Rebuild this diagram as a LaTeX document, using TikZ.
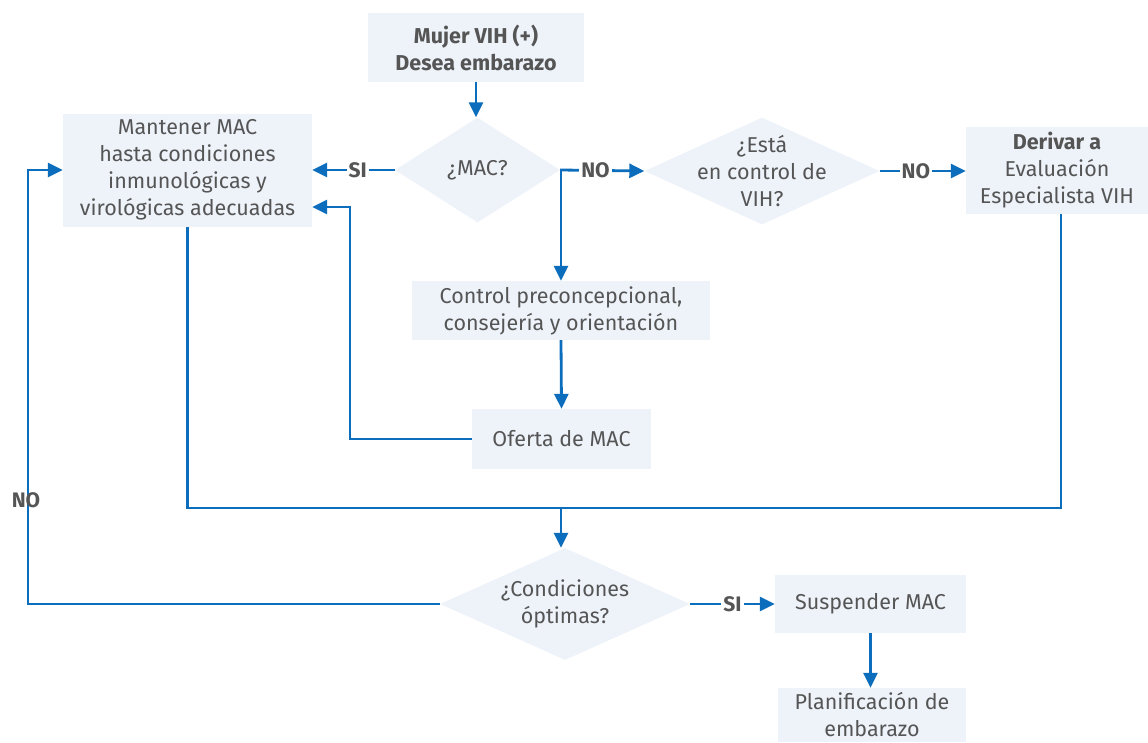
\documentclass[tikz,border=0pt]{standalone}
\usepackage{fontspec}
\setmainfont{Fira Sans}
\usetikzlibrary{shapes.geometric,arrows.meta}
\definecolor{boxfill}{HTML}{EEF3FA}
\definecolor{lineblue}{HTML}{0B6DBB}
\definecolor{txtgray}{HTML}{555555}
\tikzset{
  box/.style={rectangle, fill=boxfill, inner sep=0pt, align=center, text=txtgray,
    font=\fontsize{21.5}{27}\selectfont},
  dia/.style={diamond, fill=boxfill, inner sep=0pt, aspect=1},
  txt/.style={align=center, text=txtgray, font=\fontsize{21.5}{27}\selectfont},
  lab/.style={fill=white, inner sep=2pt, text=txtgray, font=\fontsize{21}{24}\selectfont\bfseries},
  conn/.style={draw=lineblue, line width=2.8pt},
  arr/.style={conn, -{Triangle[length=15pt,width=14pt]}},
}
\begin{document}
\begin{tikzpicture}[x=1pt,y=-1pt]
\useasboundingbox (0,0) rectangle (1148,742);
% boxes
\node[box, minimum width=216pt, minimum height=69pt] (top) at (476,47.5) {\bfseries Mujer VIH (+)\\\bfseries Desea embarazo};
\node[box, minimum width=249pt, minimum height=113pt] (mant) at (187.5,170) {Mantener MAC\\hasta condiciones\\inmunológicas y\\virológicas adecuadas};
\node[box, minimum width=182pt, minimum height=87pt] (der) at (1057,170) {\bfseries Derivar a\\Evaluación\\Especialista VIH};
\node[box, minimum width=298pt, minimum height=59pt] (ctrl) at (561,310.5) {Control preconcepcional,\\consejería y orientación};
\node[box, minimum width=179pt, minimum height=60pt] (ofe) at (561.5,439) {Oferta de MAC};
\node[box, minimum width=191pt, minimum height=58pt] (sus) at (870.5,604) {Suspender MAC};
\node[box, minimum width=188pt, minimum height=54pt] (plan) at (872,715) {Planificación de\\embarazo};
% diamonds
\node[dia, minimum width=165pt, minimum height=105pt] (d1) at (477.5,170) {};
\node[txt] at (d1) {¿MAC?};
\node[dia, minimum width=235pt, minimum height=107pt] (d2) at (762,171) {};
\node[txt] at (d2) {¿Está\\en control de\\VIH?};
\node[dia, minimum width=250pt, minimum height=112pt] (d3) at (565,604) {};
\node[txt] at (d3) {¿Condiciones\\óptimas?};
% helper coordinates
\coordinate (c1) at (350,207);
\coordinate (j) at (561,508);
\coordinate (c2) at (28,170);
% connectors
\draw[arr] (top.south) -- (top.south |- d1.north);
\draw[arr] (d1.west) -- node[lab, pos=0.45]{SI} (mant.east |- d1.west);
\draw[arr] (ofe.west) -| (c1) -- (mant.east |- c1);
\draw[arr] (d1.east) -- node[lab, pos=0.42]{NO} (d2.west);
\draw[arr] (d1.east) -| (ctrl.north);
\draw[arr] (d2.east) -- node[lab, pos=0.42]{NO} (der.west |- d2.east);
\draw[arr] (ctrl.south) -- (ofe.north);
\draw[conn] (mant.south) |- ([xshift=4pt]der.south |- j) -- ([xshift=4pt]der.south);
\draw[arr] (j) -- (j |- d3.north);
\draw[arr] (d3.west) -| (c2) -- (mant.west);
\node[text=txtgray, font=\fontsize{21}{24}\selectfont\bfseries, inner sep=0pt] (nolab) at (26,500) {NO};
\draw[arr] (d3.east) -- node[lab, pos=0.5]{SI} (sus.west |- d3.east);
\draw[arr] (sus.south) -- (sus.south |- plan.north);
\end{tikzpicture}
\end{document}
